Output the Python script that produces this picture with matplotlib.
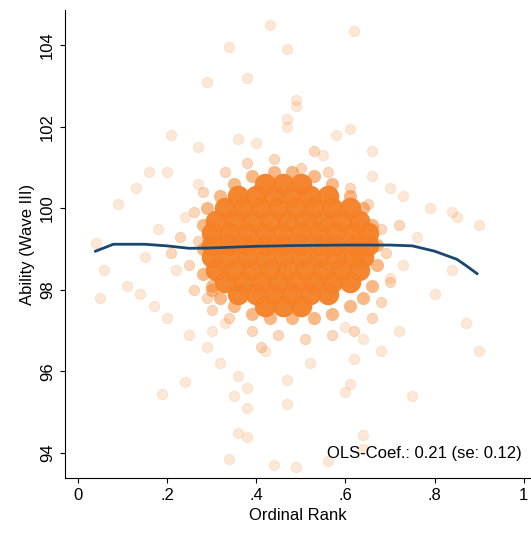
import matplotlib
matplotlib.use("Agg")
import matplotlib.pyplot as plt

plt.rcParams['font.family'] = ['Liberation Sans', 'DejaVu Sans']

orange = '#f58025'
navy = '#1a476f'

# sparse points
out_x = [0.43, 0.62, 0.34, 0.47, 0.29, 0.38, 0.49, 0.49, 0.47, 0.47, 0.61, 0.21, 0.58, 0.36, 0.27,
         0.66, 0.16, 0.20, 0.13, 0.09, 0.73, 0.79, 0.84, 0.85, 0.90, 0.04, 0.06, 0.05, 0.11, 0.14,
         0.17, 0.20, 0.25, 0.87, 0.90, 0.80, 0.84, 0.29, 0.32, 0.36, 0.38, 0.35, 0.38, 0.47, 0.47,
         0.60, 0.61, 0.62, 0.75, 0.19, 0.24, 0.36, 0.38, 0.34, 0.44, 0.49, 0.64, 0.64, 0.56, 0.72,
         0.68, 0.30, 0.22, 0.24, 0.70, 0.73, 0.76, 0.18, 0.15, 0.27, 0.66, 0.70, 0.55, 0.40, 0.33,
         0.60, 0.64, 0.42, 0.52]
out_y = [104.5, 104.35, 103.95, 103.9, 103.1, 103.2, 102.65, 102.5, 102.2, 102.0, 101.95, 101.8, 101.8, 101.7, 101.5,
         101.4, 100.9, 100.9, 100.5, 100.1, 100.3, 100.0, 99.9, 99.8, 99.6, 99.15, 98.5, 97.8, 98.1, 97.9,
         97.6, 97.3, 96.9, 97.2, 96.5, 97.9, 98.5, 96.6, 96.2, 95.9, 95.6, 95.4, 95.1, 95.8, 95.2,
         95.5, 95.7, 96.3, 95.4, 95.45, 95.75, 94.5, 94.4, 93.85, 93.7, 93.65, 94.45, 94.1, 93.8, 97.0,
         96.5, 97.0, 98.5, 99.8, 98.3, 98.6, 99.3, 99.5, 98.8, 100.6, 100.8, 100.5, 101.3, 101.6, 97.2,
         97.1, 96.8, 96.5, 96.2]

# halo around the dense cloud
halo_x = [0.26, 0.27, 0.25, 0.26, 0.28, 0.30, 0.33, 0.38, 0.44, 0.50, 0.56, 0.61, 0.65, 0.68, 0.69,
          0.70, 0.68, 0.66, 0.62, 0.57, 0.51, 0.45, 0.39, 0.34, 0.29, 0.23, 0.72, 0.21, 0.53, 0.41]
halo_y = [99.9, 99.2, 98.6, 98.0, 100.4, 97.5, 100.9, 101.1, 101.2, 101.0, 100.9, 100.5, 100.1, 99.5, 98.9,
          98.2, 97.7, 97.3, 97.0, 96.9, 96.8, 96.9, 97.0, 97.3, 97.8, 99.3, 99.6, 98.9, 101.4, 96.6]

# edge of the dense cloud
edge_x = [0.28, 0.28, 0.28, 0.29, 0.30, 0.32, 0.35, 0.39, 0.44, 0.48, 0.53, 0.57, 0.61, 0.64, 0.66,
          0.67, 0.67, 0.66, 0.64, 0.61, 0.57, 0.53, 0.48, 0.43, 0.39, 0.35, 0.32, 0.30]
edge_y = [99.6, 99.0, 98.4, 100.0, 98.0, 100.3, 100.6, 100.8, 100.9, 100.9, 100.8, 100.6, 100.3, 100.0, 99.6,
          99.1, 98.6, 98.1, 97.8, 97.6, 97.4, 97.3, 97.3, 97.3, 97.4, 97.6, 97.8, 98.1]

# dense core, row by row
core_rows = {
    100.6: [0.42, 0.46, 0.50],
    100.3: [0.36, 0.40, 0.44, 0.48, 0.52, 0.56],
    100.0: [0.33, 0.37, 0.41, 0.45, 0.49, 0.53, 0.57, 0.61],
    99.7: [0.31, 0.35, 0.39, 0.43, 0.47, 0.51, 0.55, 0.59, 0.63],
    99.4: [0.30, 0.34, 0.38, 0.42, 0.46, 0.50, 0.54, 0.58, 0.62, 0.65],
    99.1: [0.30, 0.34, 0.38, 0.42, 0.46, 0.50, 0.54, 0.58, 0.62, 0.65],
    98.8: [0.30, 0.34, 0.38, 0.42, 0.46, 0.50, 0.54, 0.58, 0.62, 0.64],
    98.5: [0.31, 0.35, 0.39, 0.43, 0.47, 0.51, 0.55, 0.59, 0.63],
    98.2: [0.33, 0.37, 0.41, 0.45, 0.49, 0.53, 0.57, 0.61],
    97.9: [0.36, 0.40, 0.44, 0.48, 0.52, 0.56],
    97.6: [0.42, 0.46, 0.50],
}

# smoothed fit
fit_x = [0.04, 0.08, 0.15, 0.20, 0.25, 0.30, 0.40, 0.50, 0.60, 0.70, 0.75, 0.80, 0.85, 0.87, 0.895]
fit_y = [98.95, 99.12, 99.12, 99.08, 99.02, 99.03, 99.07, 99.09, 99.10, 99.10, 99.08, 98.95, 98.75, 98.6, 98.4]

core_x = [x for y, xs in core_rows.items() for x in xs]
core_y = [y for y, xs in core_rows.items() for x in xs]

fig = plt.figure(figsize=(5.31, 5.34), dpi=100)
ax = fig.add_axes([0.122, 0.105, 0.878, 0.876])

ax.scatter(out_x, out_y, s=55, color=orange, alpha=0.18, linewidths=0.6, edgecolors=orange)
ax.scatter(halo_x, halo_y, s=55, color=orange, alpha=0.3, linewidths=0.6, edgecolors=orange)
ax.scatter(edge_x, edge_y, s=90, color=orange, alpha=0.55, linewidths=0)
ax.scatter(core_x, core_y, s=240, color=orange, alpha=0.95, linewidths=0)
ax.plot(fit_x, fit_y, color=navy, lw=2)

ax.set_xlim(-0.029, 1.016)
ax.set_ylim(93.39, 104.86)
ax.set_xticks([0, 0.2, 0.4, 0.6, 0.8, 1])
ax.set_xticklabels(['0', '.2', '.4', '.6', '.8', '1'])
ax.set_yticks([94, 96, 98, 100, 102, 104])
ax.set_yticklabels(['94', '96', '98', '100', '102', '104'], rotation=90, va='center')
ax.tick_params(labelsize=12)
ax.set_xlabel('Ordinal Rank', fontsize=12)
ax.set_ylabel('Ability (Wave III)', fontsize=12)
ax.spines['top'].set_visible(False)
ax.spines['right'].set_visible(False)
ax.text(0.995, 94.0, 'OLS-Coef.: 0.21 (se: 0.12)', ha='right', va='center', fontsize=12)

fig.savefig('out.png', dpi=100)
